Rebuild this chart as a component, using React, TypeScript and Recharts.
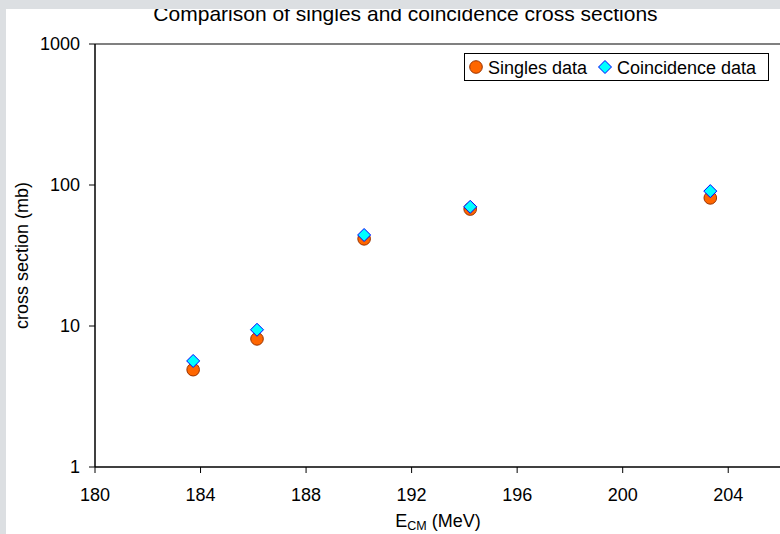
import React from 'react';
import { ScatterChart, Scatter, XAxis, YAxis, ReferenceLine } from 'recharts';

const energies = [183.72, 186.14, 190.2, 194.22, 203.32];
const singles = [4.9, 8.1, 41.5, 67.5, 81];
const coincidence = [5.65, 9.4, 44.2, 70, 90.5];
const xTicks = [180, 184, 188, 192, 196, 200, 204];
const yTicks = [1, 10, 100, 1000];
const titleText = 'Comparison of singles and coincidence cross sections';
const yLabelText = 'cross section (mb)';
const seriesNames = ['Singles data', 'Coincidence data'];

const singlesData = energies.map((x, i) => ({ x, y: singles[i] }));
const coincData = energies.map((x, i) => ({ x, y: coincidence[i] }));

const FONT = 'Arial, "Liberation Sans", sans-serif';

const CircleShape = (props: any) => (
  <circle cx={props.cx} cy={props.cy} r={6.3} fill="#ff6600" stroke="#993300" strokeWidth={1} />
);

const DiamondShape = (props: any) => {
  const { cx, cy } = props;
  const r = 6.5;
  return (
    <polygon
      points={`${cx},${cy - r} ${cx + r},${cy} ${cx},${cy + r} ${cx - r},${cy}`}
      fill="#00ffff"
      stroke="#0000ff"
      strokeWidth={1}
    />
  );
};

const LegendBox = () => (
  <div
    style={{
      position: 'absolute',
      left: 464,
      top: 53,
      width: 305,
      height: 28,
      boxSizing: 'border-box',
      border: '1px solid #000',
      background: '#fff',
    }}
  >
    <svg width={305} height={28} style={{ position: 'absolute', left: -1, top: -1 }}>
      <circle cx={12} cy={14} r={6.3} fill="#ff6600" stroke="#993300" strokeWidth={1} />
      <polygon points="141,7.5 147.5,14 141,20.5 134.5,14" fill="#00ffff" stroke="#0000ff" strokeWidth={1} />
      <text x={24} y={20.5} fontFamily={FONT} fontSize={18} fill="#000">{seriesNames[0]}</text>
      <text x={153} y={20.5} fontFamily={FONT} fontSize={18} fill="#000">{seriesNames[1]}</text>
    </svg>
  </div>
);

const XLabel = (props: any) => {
  const vb = props.viewBox || {};
  const cx = vb.x + vb.width / 2;
  const y = vb.y + 60;
  return (
    <text x={cx} y={y} textAnchor="middle" fontFamily={FONT} fontSize={18} fill="#000">
      <tspan>E</tspan>
      <tspan fontSize={12.5} dy={3}>CM</tspan>
      <tspan dy={-3}> (MeV)</tspan>
    </text>
  );
};

const YLabel = (props: any) => {
  const vb = props.viewBox || {};
  const cy = vb.y + vb.height / 2;
  const x = 27.5;
  return (
    <text
      x={x}
      y={cy}
      transform={`rotate(-90, ${x}, ${cy})`}
      textAnchor="middle"
      fontFamily={FONT}
      fontSize={18}
      fill="#000"
    >
      {yLabelText}
    </text>
  );
};

export default function App() {
  return (
    <div
      style={{
        position: 'fixed',
        left: 0,
        top: 0,
        width: 780,
        height: 534,
        background: '#dcdfe2',
        overflow: 'hidden',
      }}
    >
      <div
        style={{
          position: 'absolute',
          left: 6,
          top: 9,
          width: 774,
          height: 525,
          background: '#fff',
          overflow: 'hidden',
        }}
      >
        <div
          style={{
            position: 'absolute',
            left: 405.5 - 6 - 400,
            top: 2.7 - 9,
            width: 800,
            textAlign: 'center',
            fontFamily: FONT,
            fontSize: 21,
            lineHeight: '21px',
            color: '#000',
            whiteSpace: 'nowrap',
          }}
        >
          {titleText}
        </div>
        <div style={{ position: 'absolute', left: -6, top: -9, width: 790, height: 534 }}>
          <ScatterChart width={790} height={534} margin={{ top: 44, right: 9, bottom: 0, left: 0 }}>
            <XAxis
              type="number"
              dataKey="x"
              domain={[180, 206]}
              ticks={xTicks}
              allowDataOverflow
              height={67}
              tickSize={6}
              tickMargin={15}
              stroke="#000"
              strokeWidth={1.5}
              tick={{ fill: '#000', fontSize: 18, fontFamily: FONT }}
              tickLine={{ stroke: '#000', strokeWidth: 1 }}
              label={<XLabel />}
            />
            <YAxis
              type="number"
              dataKey="y"
              scale="log"
              domain={[1, 1000]}
              ticks={yTicks}
              allowDataOverflow
              width={95}
              tickSize={6}
              tickMargin={9}
              stroke="#000"
              strokeWidth={1.5}
              tick={{ fill: '#000', fontSize: 18, fontFamily: FONT }}
              tickLine={{ stroke: '#000', strokeWidth: 1 }}
              label={<YLabel />}
            />
            <ReferenceLine y={1000} stroke="#808080" strokeWidth={2} />
            <Scatter name={seriesNames[0]} data={singlesData} shape={CircleShape} isAnimationActive={false} />
            <Scatter name={seriesNames[1]} data={coincData} shape={DiamondShape} isAnimationActive={false} />
          </ScatterChart>
          <LegendBox />
        </div>
      </div>
    </div>
  );
}
